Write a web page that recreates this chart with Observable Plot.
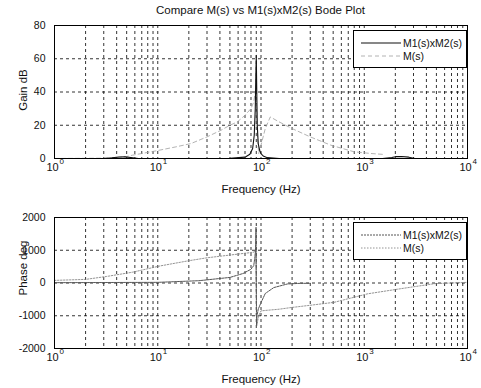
<!DOCTYPE html>
<html><head><meta charset="utf-8">
<script src="https://cdn.jsdelivr.net/npm/d3@7"></script>
<script src="https://cdn.jsdelivr.net/npm/@observablehq/plot@0.6"></script>
<style>
body{margin:0;background:#fff;font-family:"Liberation Sans",Arial,sans-serif;}
#wrap{position:relative;width:481px;height:388px;overflow:hidden;}
.abs{position:absolute;}
#title{left:54px;width:413px;top:4px;text-align:center;font-size:11.5px;color:#111;}
</style></head><body>
<div id="wrap"><div id="title" class="abs">Compare M(s) vs M1(s)xM2(s) Bode Plot</div></div>
<script>
// ---- data ----
const decades = [1, 10, 100, 1000, 10000];
const exponents = ["0", "1", "2", "3", "4"];
const gridFreqs = [2,3,4,5,6,7,8,9,10,20,30,40,50,60,70,80,90,100,200,300,400,500,600,700,800,900,1000,2000,3000,4000,5000,6000,7000,8000,9000];
const gainTicks = [0, 20, 40, 60, 80];
const phaseTicks = [-2000, -1000, 0, 1000, 2000];

// Gain, M1(s)xM2(s)
const gM12Freq = [1, 3, 3.6, 4.2, 4.8, 5.5, 6.5, 20, 50, 70, 78, 83, 86, 88, 89, 90, 91, 92, 94, 97, 100, 105, 115, 150, 500, 1500, 1850, 2000, 2300, 2700, 3100, 10000];
const gM12Val  = [0, 0, 0.4, 0.9, 1.0, 0.6, 0, 0, 0.1, 0.8, 2.5, 6, 14, 30, 48, 62, 40, 20, 9, 5, 3, 1.5, 0.5, 0, 0, 0, 0.6, 1.1, 1.2, 0.8, 0, 0];
// Gain, M(s)
const gMFreq = [1, 3, 4, 5, 5.7, 7, 10, 15, 21, 30, 41, 50, 59, 70, 80, 85, 88, 90, 92, 95, 100, 110, 123, 150, 200, 300, 475, 800, 1170, 1500];
const gMVal  = [0, 0.2, 0.5, 1.2, 2, 3, 4.8, 7, 9, 13, 17, 20, 22, 26, 30, 34, 40, 36, 15, 3, 8, 18, 25, 22, 18, 13, 8, 4, 3, 2.5];
// Phase, M1(s)xM2(s)
const pM12Freq = [1, 10, 25, 50, 67, 80, 85, 87, 88.5, 89.5, 90.5, 91.5, 94, 100, 110, 133, 180, 240, 300];
const pM12Val  = [10, 20, 70, 170, 290, 420, 530, 750, 1000, 1700, -1300, -1000, -800, -600, -320, -140, -30, -10, -10];
// Phase, M(s)
const pMFreq = [1, 2, 3.2, 5.7, 10.5, 20, 30, 59, 85, 88, 89, 91, 95, 100, 150, 195, 300, 510, 1080, 2300, 4800, 10000];
const pMVal  = [80, 110, 200, 330, 520, 680, 770, 880, 940, 1000, 1050, -1300, -1000, -850, -800, -750, -680, -590, -330, -170, -20, 20];

const seriesNames = ["M1(s)xM2(s)", "M(s)"];

const zip = (fs, vs) => fs.map((f, i) => ({f, v: vs[i]}));
const wrap = document.getElementById("wrap");

function panel({top, height, mt, yDomain, yTicks, yLabel, labelDy, lines}) {
  const p = Plot.plot({
    width: 481, height, marginLeft: 54, marginRight: 14, marginTop: mt, marginBottom: 40,
    style: {fontFamily: "Liberation Sans, Arial, sans-serif", fontSize: "11px", color: "#111", background: "transparent", overflow: "visible"},
    x: {type: "log", domain: [1, 10000], axis: null},
    y: {domain: yDomain, axis: null},
    marks: [
      Plot.ruleX(gridFreqs, {x: d => d, stroke: "#000", strokeWidth: 0.8, strokeDasharray: "3,3"}),
      Plot.ruleY(yTicks, {y: d => d, stroke: "#000", strokeWidth: 0.8, strokeDasharray: "3,3"}),
      ...lines.map(l => Plot.line(zip(l.f, l.v), {x: "f", y: "v", stroke: l.stroke, strokeWidth: l.w, strokeDasharray: l.dash, curve: "linear", clip: true})),
      Plot.frame({stroke: "#000", strokeWidth: 1}),
      Plot.axisY(yTicks, {tickSize: 0, tickPadding: 9, label: null, fontSize: 10.5, tickFormat: d => String(d)}),
      Plot.text(decades, {x: d => d, frameAnchor: "bottom", lineAnchor: "middle", textAnchor: "middle", dy: 9, dx: -2, text: () => "10", fontSize: 11}),
      Plot.text(decades, {x: d => d, frameAnchor: "bottom", lineAnchor: "middle", textAnchor: "start", dy: 3, dx: 5, text: (d, i) => exponents[i], fontSize: 8}),
      Plot.text(["Frequency (Hz)"], {frameAnchor: "bottom", lineAnchor: "middle", textAnchor: "middle", dy: 31, text: d => d, fontSize: 11.5}),
      Plot.text([yLabel], {frameAnchor: "left", lineAnchor: "middle", textAnchor: "middle", dx: -31, dy: labelDy, rotate: -90, text: d => d, fontSize: 11.5})
    ]
  });
  p.classList.add("abs");
  p.style.top = top + "px";
  p.style.left = "0px";
  wrap.appendChild(p);
}

panel({top: 18, height: 180, mt: 7, yDomain: [0, 80], yTicks: gainTicks, yLabel: "Gain dB", labelDy: -2,
  lines: [
    {f: gMFreq, v: gMVal, stroke: "#a0a0a0", w: 0.8, dash: "4,3"},
    {f: gM12Freq, v: gM12Val, stroke: "#111", w: 1.1, dash: null}
  ]});
panel({top: 198, height: 190, mt: 19, yDomain: [-2000, 2000], yTicks: phaseTicks, yLabel: "Phase deg", labelDy: -15,
  lines: [
    {f: pMFreq, v: pMVal, stroke: "#888", w: 0.9, dash: "1.5,1.5"},
    {f: pM12Freq, v: pM12Val, stroke: "#555", w: 1, dash: "2,1"}
  ]});

function legend(top, styles) {
  const d = document.createElement("div");
  d.className = "abs";
  d.style.cssText = `left:353px;top:${top}px;width:112px;height:36px;border:1px solid #000;background:#fff;`;
  const rows = styles.map((s, i) => {
    const y = 12 + i * 13;
    return `<line x1="7" x2="47" y1="${y}" y2="${y}" stroke="${s.stroke}" stroke-width="${s.w}" ${s.dash ? `stroke-dasharray="${s.dash}"` : ""}/>` +
      `<text x="49" y="${y}" dy="0.35em" font-size="10.5" fill="#111" font-family="Liberation Sans, Arial, sans-serif">${seriesNames[i]}</text>`;
  }).join("");
  d.innerHTML = `<svg width="112" height="36">${rows}</svg>`;
  wrap.appendChild(d);
}
legend(30, [{stroke: "#111", w: 1.1, dash: null}, {stroke: "#a0a0a0", w: 0.8, dash: "4,3"}]);
legend(222, [{stroke: "#555", w: 1, dash: "2,1"}, {stroke: "#888", w: 0.9, dash: "1.5,1.5"}]);
</script>
</body></html>
